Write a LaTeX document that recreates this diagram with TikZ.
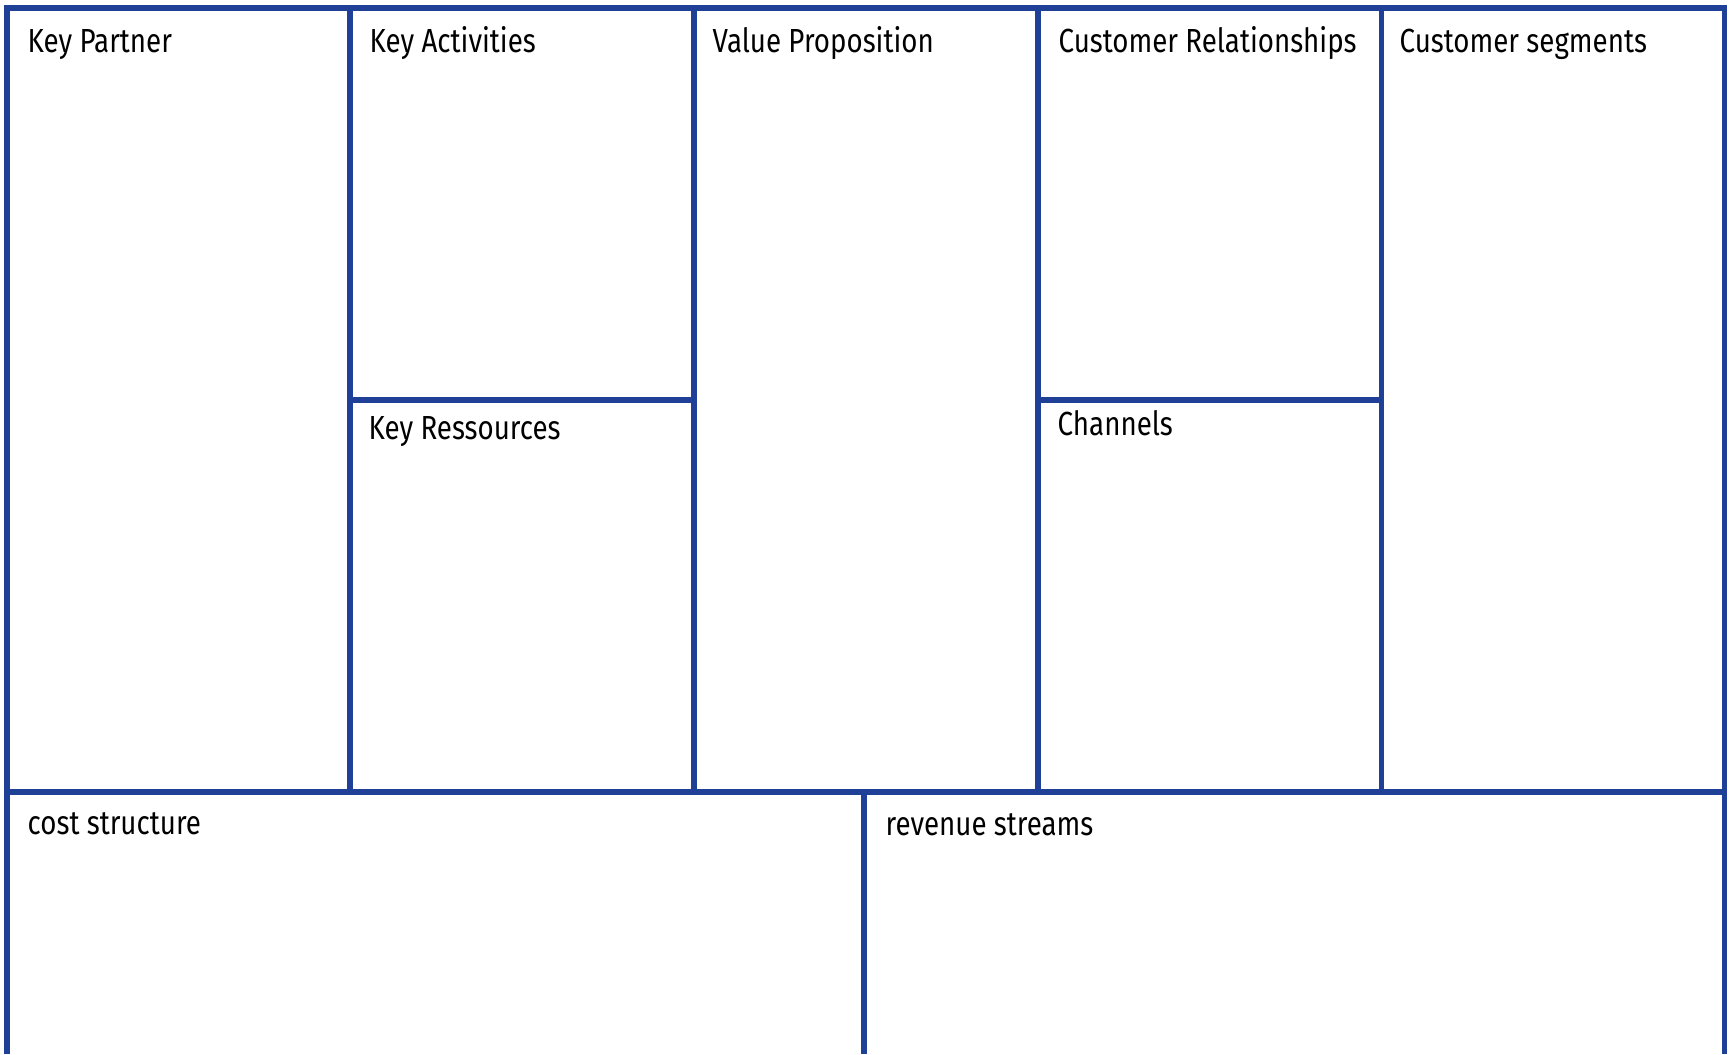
\documentclass[tikz,border=0pt]{standalone}
\usepackage{fontspec}
\setmainfont[FakeStretch=0.83]{Fira Sans}
\definecolor{canvasblue}{RGB}{30,64,150}
\tikzset{
    field/.style={anchor=base west, inner sep=0pt, font=\fontsize{9.5}{11}\selectfont},
    frame/.style={canvasblue, line width=1.5pt}
}

\begin{document}
\begin{tikzpicture}
        \useasboundingbox (0,0) rectangle (17.33,10.54);
        \clip (0,0) rectangle (17.33,10.54);

        % Rahmen
        \draw[frame] (0.07,0) -- (0.07,10.46) -- (17.245,10.46) -- (17.245,0);
        \draw[frame] (0.07,2.62) -- (17.245,2.62);

        % Spalten oben
        \foreach \x in {3.50, 6.94, 10.38, 13.815}
            \draw[frame] (\x,2.62) -- (\x,10.46);

        % Teilungen
        \draw[frame] (3.50,6.54) -- (6.94,6.54);
        \draw[frame] (10.38,6.54) -- (13.815,6.54);
        \draw[frame] (8.64,0) -- (8.64,2.62);

        % Felder
        \node[field] (partner) at (0.27,10.01) {Key Partner};
        \node[field] (activities) at (3.69,10.01) {Key Activities};
        \node[field] (value) at (7.12,10.01) {Value Proposition};
        \node[field] (relations) at (10.58,10.01) {Customer Relationships};
        \node[field] (segments) at (13.99,10.01) {Customer segments};
        \node[field] (resources) at (3.68,6.14) {Key Ressources};
        \node[field] (channels) at (10.57,6.18) {Channels};
        \node[field] (cost) at (0.27,2.19) {cost structure};
        \node[field] (revenue) at (8.85,2.18) {revenue streams};
    \end{tikzpicture}
\end{document}
